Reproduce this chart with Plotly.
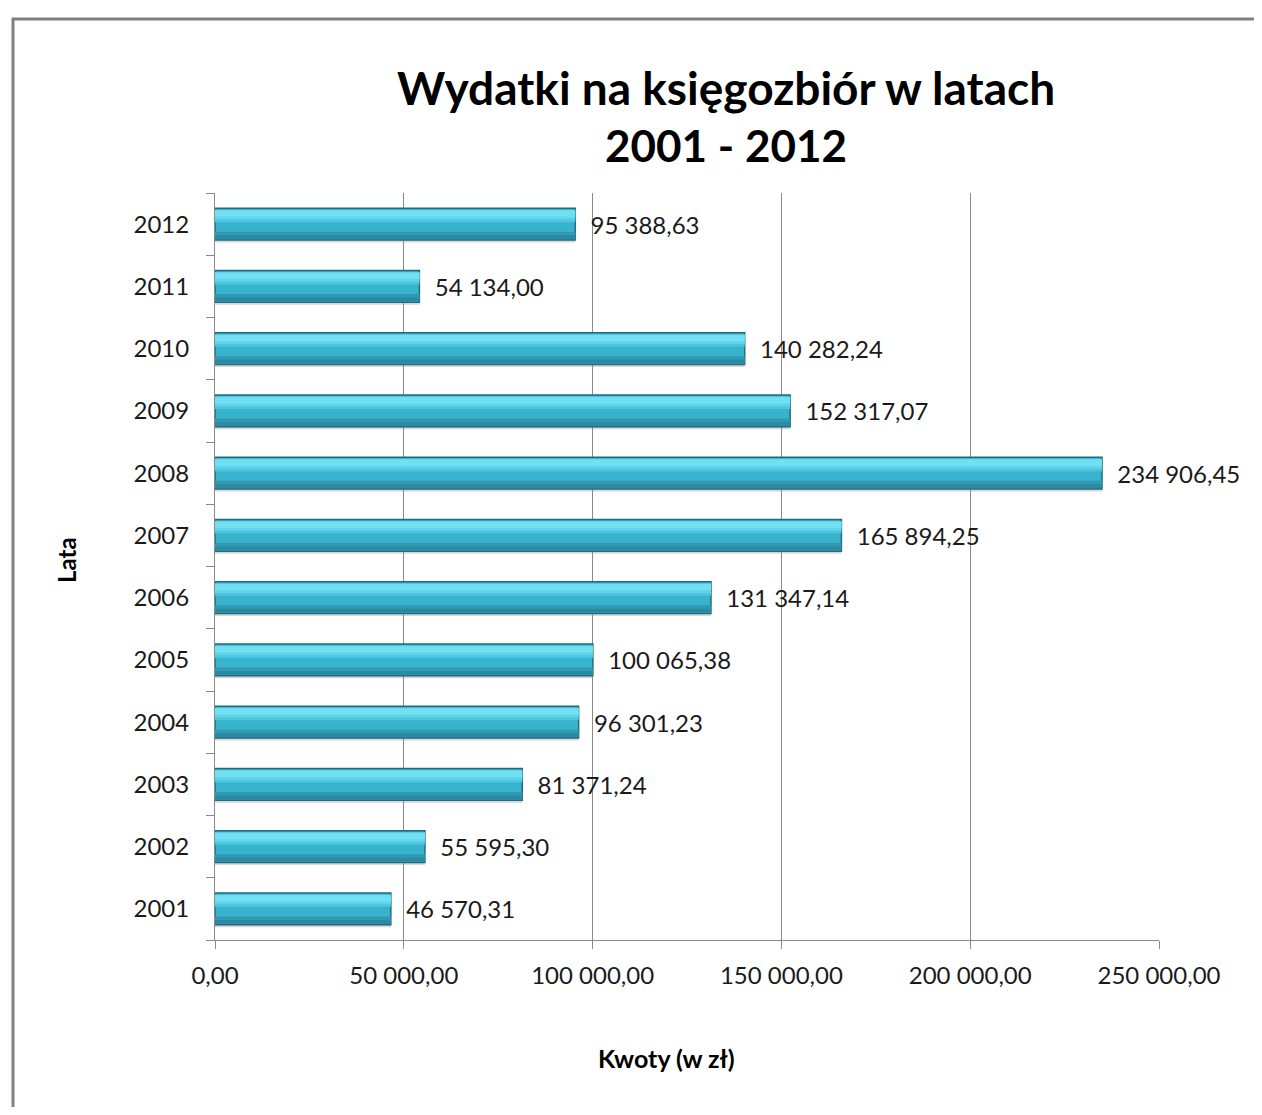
import plotly.graph_objects as go

years = ["2001", "2002", "2003", "2004", "2005", "2006", "2007", "2008", "2009", "2010", "2011", "2012"]
amounts = [46570.31, 55595.30, 81371.24, 96301.23, 100065.38, 131347.14, 165894.25,
           234906.45, 152317.07, 140282.24, 54134.00, 95388.63]
x_tickvals = [0, 50000, 100000, 150000, 200000, 250000]
x_ticktext = ["0,00", "50 000,00", "100 000,00", "150 000,00", "200 000,00", "250 000,00"]

def pl(v):
    s = f"{v:,.2f}"
    return s.replace(",", " ").replace(".", ",")

labels = ["\u00a0\u00a0" + pl(v) for v in amounts]

OFF = 8  # page body margin
W, H = 1262 - 2 * OFF, 1115 - 2 * OFF
L = 215 - OFF
T = 193 - OFF
PR = 1159 - OFF
PB = 940 - OFF
R = W - PR
B = H - PB
PW, PH = PR - L, PB - T

def px(x):
    return (x - OFF - L) / PW

def py(y):
    return (PB - (y - OFF)) / PH

FONT = "Lato"
fig = go.Figure()

def band(width, offset, color, **kw):
    fig.add_trace(go.Bar(y=years, x=amounts, orientation="h", width=width, offset=offset,
                         marker=dict(color=color, line=dict(width=0)),
                         hoverinfo="skip", showlegend=False, **kw))

# shadow
band(0.5, -0.295, "rgba(140,140,140,0.35)")
# main bar
fig.add_trace(go.Bar(y=years, x=amounts, orientation="h", width=0.51, offset=-0.255,
                     marker=dict(color="#38B3CE", line=dict(color="#226B7E", width=1.5)),
                     text=labels, textposition="outside", cliponaxis=False,
                     textfont=dict(family=FONT, size=24, color="#1a1a1a"),
                     hoverinfo="x+y", showlegend=False))
# gradient bands
band(0.115, -0.237, "#3199B2")
band(0.06, -0.237, "#2A8AA1")
band(0.2, 0.03, "#4CC6DE")
band(0.15, 0.075, "#5FD4EA")
band(0.1, 0.12, "#72E0F2")

fig.update_layout(
    width=W, height=H, barmode="overlay",
    margin=dict(l=L, r=R, t=T, b=B),
    paper_bgcolor="white", plot_bgcolor="white",
    font=dict(family=FONT, color="#111"),
    xaxis=dict(range=[0, 250000], tickvals=x_tickvals, ticktext=x_ticktext,
               showgrid=True, gridcolor="#8a8a8a", gridwidth=1,
               showline=True, linecolor="#8a8a8a", linewidth=1,
               ticks="outside", ticklen=8, tickcolor="#8a8a8a",
               tickfont=dict(family=FONT, size=24, color="#1a1a1a"),
               ticklabelstandoff=6, zeroline=False, fixedrange=True),
    yaxis=dict(type="category", categoryorder="array", categoryarray=years,
               range=[-0.5, 11.5], showgrid=False,
               showline=True, linecolor="#8a8a8a", linewidth=1,
               ticks="outside", ticklen=8, tickcolor="#8a8a8a", tickson="boundaries",
               tickfont=dict(family=FONT, size=24, color="#1a1a1a"),
               ticklabelstandoff=20, fixedrange=True),
    shapes=[dict(type="rect", xref="paper", yref="paper",
                 x0=px(13), x1=px(1300), y0=py(19), y1=py(1200),
                 line=dict(color="#808080", width=3), fillcolor="rgba(0,0,0,0)", layer="below")],
    annotations=[
        dict(text="<b>Wydatki na księgozbiór w latach</b>", xref="paper", yref="paper",
             x=px(726), y=py(87), showarrow=False, xanchor="center", yanchor="middle",
             font=dict(family=FONT, size=46, color="#000")),
        dict(text="<b>2001 - 2012</b>", xref="paper", yref="paper",
             x=px(726), y=py(145), showarrow=False, xanchor="center", yanchor="middle",
             font=dict(family=FONT, size=44, color="#000")),
        dict(text="<b>Lata</b>", xref="paper", yref="paper", textangle=-90,
             x=px(66), y=py(560), showarrow=False, xanchor="center", yanchor="middle",
             font=dict(family=FONT, size=24, color="#000")),
        dict(text="<b>Kwoty (w zł)</b>", xref="paper", yref="paper",
             x=px(666), y=py(1058), showarrow=False, xanchor="center", yanchor="middle",
             font=dict(family=FONT, size=25, color="#000")),
    ],
)

fig.write_html("out.html")
